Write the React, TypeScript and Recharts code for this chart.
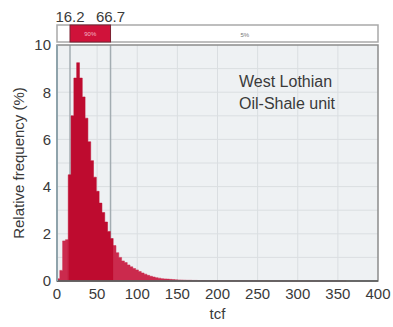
import React from 'react';
import {
  ComposedChart,
  Area,
  XAxis,
  YAxis,
  CartesianGrid,
  ReferenceArea,
  ReferenceLine,
} from 'recharts';

// Histogram of tcf (relative frequency, %), bins of equal width starting at 0
const binWidth = 3.5;
const freq = [
  0.1, 0.45, 1.7, 1.75, 4.5, 7.0, 8.6, 9.25, 8.6, 7.8,
  6.9, 5.9, 5.1, 4.4, 3.8, 3.3, 2.9, 2.5, 2.1, 1.8,
  1.5, 1.2, 1.0, 0.85, 0.78, 0.68, 0.6, 0.53, 0.47, 0.4,
  0.34, 0.29, 0.24, 0.2, 0.17, 0.14, 0.12, 0.1, 0.09, 0.08,
  0.07, 0.06, 0.05, 0.045, 0.04, 0.035, 0.03, 0.03, 0.025, 0.025,
  0.02, 0.02, 0.02, 0.018, 0.016, 0.015, 0.014, 0.013, 0.012, 0.011,
  0.01, 0.01, 0.01, 0.009, 0.009, 0.008, 0.008, 0.008, 0.007, 0.007,
  0.007, 0.006, 0.006, 0.006, 0.006, 0.005, 0.005, 0.005, 0.005, 0.005,
  0.004, 0.004, 0.004, 0.004, 0.004, 0.004, 0.003, 0.003, 0.003, 0.003,
  0.003, 0.003, 0.003, 0.002, 0.002, 0.002, 0.002, 0.002, 0.002, 0.002,
  0.002, 0.002, 0.002,
];

const ciLow = 16.2;
const ciHigh = 66.7;
const ciLowLabel = '16.2';
const ciHighLabel = '66.7';
const innerShare = '90%';
const tailShare = '5%';

const xTicks = [0, 50, 100, 150, 200, 250, 300, 350, 400];
const yTicks = [0, 2, 4, 6, 8, 10];
const gridX = [50, 100, 150, 200, 250, 300, 350];
const gridY = [1, 2, 3, 4, 5, 6, 7, 8, 9];
const ciLines = [ciLow, ciHigh];

const titleLines = ['West Lothian', 'Oil-Shale unit'];
const xLabel = 'tcf';
const yLabel = 'Relative frequency (%)';

const rows = [
  ...freq.map((v, i) => {
    const start = i * binWidth;
    const end = start + binWidth;
    const inside = end > ciLow && start < ciHigh;
    return { x: start, inner: inside ? v : 0, outer: inside ? 0 : v };
  }),
  { x: freq.length * binWidth, inner: 0, outer: 0 },
];

const FONT = '"Liberation Sans", Arial, sans-serif';
const TEXT = '#3a3a3a';

const BandShape = (props: any) => {
  const { x, y, width } = props;
  return (
    <g>
      <rect x={x} y={y - 20} width={width} height={17} fill="#ffffff" stroke="#a9a9a9" strokeWidth={1.5} />
      <text x={x + width * 0.585} y={y - 8.5} textAnchor="middle" fontSize={6} fill="#777" fontFamily={FONT}>
        {tailShare}
      </text>
    </g>
  );
};

const RedShape = (props: any) => {
  const { x, y, width } = props;
  return (
    <g>
      <rect x={x} y={y - 20} width={width} height={17} fill="#d0123a" stroke="#7a2030" strokeWidth={1} />
      <text x={x + width / 2} y={y - 9} textAnchor="middle" fontSize={6} fill="#f4b8c4" fontFamily={FONT}>
        {innerShare}
      </text>
    </g>
  );
};

export default function App() {
  return (
    <div style={{ position: 'absolute', left: 0, top: 0, background: '#fff' }}>
      <ComposedChart
        width={393}
        height={327}
        data={rows}
        margin={{ top: 45, right: 15, bottom: 0, left: 0 }}
      >
        <CartesianGrid
          fill="#eef1f3"
          stroke="#dadee1"
          strokeWidth={1}
          horizontalValues={gridY}
          verticalValues={gridX}
        />
        <CartesianGrid
          horizontal={false}
          stroke="#a3adb2"
          strokeWidth={1.5}
          verticalValues={ciLines}
        />
        <ReferenceLine
          x={ciLow}
          stroke="none"
          strokeOpacity={0}
          ifOverflow="visible"
          label={{ value: ciLowLabel, position: 'top', offset: 23, fill: TEXT, fontSize: 15, fontFamily: FONT }}
        />
        <ReferenceLine
          x={ciHigh}
          stroke="none"
          strokeOpacity={0}
          ifOverflow="visible"
          label={{ value: ciHighLabel, position: 'top', offset: 23, fill: TEXT, fontSize: 15, fontFamily: FONT }}
        />
        <XAxis
          type="number"
          dataKey="x"
          domain={[0, 400]}
          ticks={xTicks}
          allowDataOverflow
          height={46}
          tickLine={false}
          tickSize={4}
          tickMargin={3}
          axisLine={{ stroke: '#555', strokeWidth: 1.5 }}
          tick={{ fill: TEXT, fontSize: 15, fontFamily: FONT }}
          label={{
            content: (p: any) => {
              const vb = p.viewBox;
              return (
                <text x={vb.x + vb.width / 2} y={vb.y + 38} textAnchor="middle" fontSize={15} fill={TEXT} fontFamily={FONT}>
                  {xLabel}
                </text>
              );
            },
          }}
        />
        <YAxis
          type="number"
          domain={[0, 10]}
          ticks={yTicks}
          width={57}
          tickLine={false}
          tickSize={4}
          tickMargin={2}
          axisLine={{ stroke: '#8fa3ab', strokeWidth: 2 }}
          tick={{ fill: TEXT, fontSize: 15, fontFamily: FONT }}
          label={{
            content: (p: any) => {
              const vb = p.viewBox;
              const cx = 18;
              const cy = vb.y + vb.height / 2;
              return (
                <text x={cx} y={cy} textAnchor="middle" dominantBaseline="central" fontSize={15} fill={TEXT} fontFamily={FONT} transform={`rotate(-90 ${cx} ${cy})`}>
                  {yLabel}
                </text>
              );
            },
          }}
        />
        <Area
          type="stepAfter"
          dataKey="outer"
          fill="#cb2a4d"
          fillOpacity={1}
          stroke="#cb2a4d"
          strokeWidth={0.5}
          isAnimationActive={false}
          dot={false}
          activeDot={false}
        />
        <Area
          type="stepAfter"
          dataKey="inner"
          fill="#be0b2f"
          fillOpacity={1}
          stroke="#be0b2f"
          strokeWidth={0.5}
          isAnimationActive={false}
          dot={false}
          activeDot={false}
        />
        <ReferenceArea x1={0} x2={400} y1={0} y2={10} ifOverflow="visible" shape={BandShape} />
        <ReferenceArea x1={ciLow} x2={ciHigh} y1={0} y2={10} ifOverflow="visible" shape={RedShape} />
        <ReferenceArea x1={0} x2={400} y1={0} y2={10} ifOverflow="visible" fill="none" fillOpacity={0} stroke="#8c8c8c" strokeWidth={1.5} />
        <text x={239} y={87} fontSize={16} fill={TEXT} fontFamily={FONT}>{titleLines[0]}</text>
        <text x={239} y={109} fontSize={16} fill={TEXT} fontFamily={FONT}>{titleLines[1]}</text>
      </ComposedChart>
    </div>
  );
}
